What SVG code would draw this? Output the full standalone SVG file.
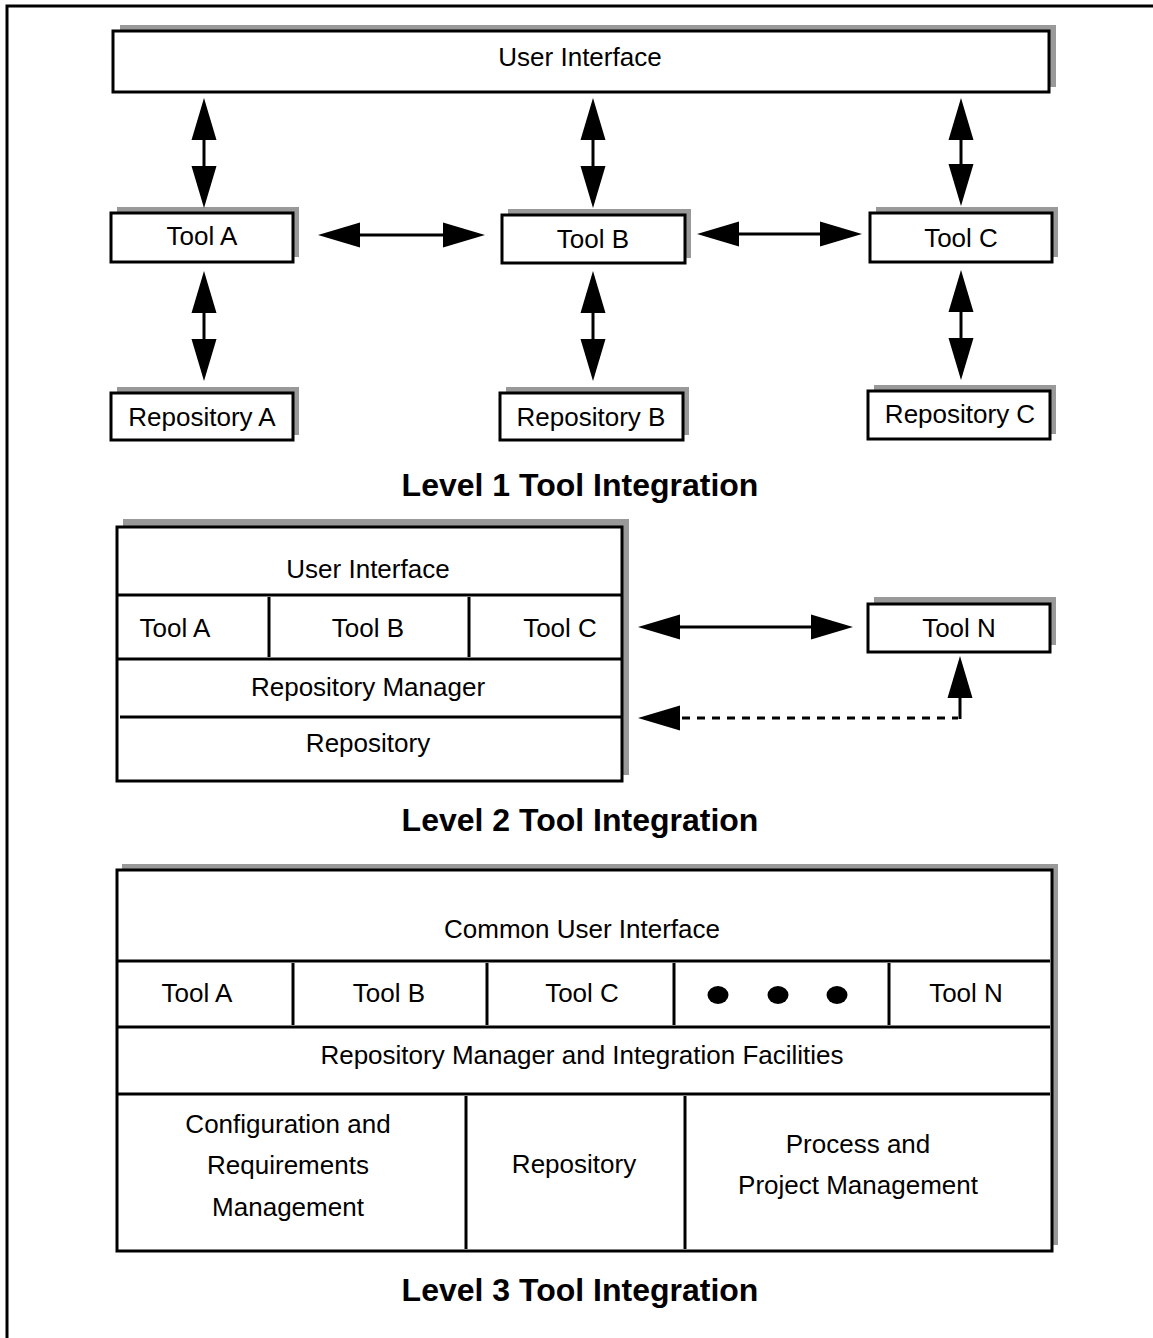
<svg xmlns="http://www.w3.org/2000/svg" width="1153" height="1338" viewBox="0 0 1153 1338">
  <style>
    .shadow { fill: #999999; }
    .box { fill: #ffffff; stroke: #000000; stroke-width: 3; }
    .rule { stroke: #000000; stroke-width: 3; fill: none; }
    .lbl { font-family: "Liberation Sans", Arial, sans-serif; font-size: 26px; fill: #000000; text-anchor: middle; }
    .title { font-family: "Liberation Sans", Arial, sans-serif; font-size: 32px; font-weight: bold; fill: #000000; text-anchor: middle; }
    .conn { stroke: #000000; stroke-width: 3; fill: none; marker-end: url(#head); marker-start: url(#head); }
    .dash { stroke: #000000; stroke-width: 3; fill: none; stroke-dasharray: 8 7; }
  </style>
  <defs>
    <marker id="head" markerUnits="userSpaceOnUse" markerWidth="44" markerHeight="26" refX="0" refY="12.5" orient="auto-start-reverse" overflow="visible">
      <path d="M0,0 L42,12.5 L0,25 Z" fill="#000000"/>
    </marker>
  </defs>

  <rect width="1153" height="1338" fill="#ffffff"/>
  <!-- page frame -->
  <path d="M7,1338 L7,6 L1153,6" stroke="#000000" stroke-width="3" fill="none"/>

  <!-- ===== Level 1 ===== -->
  <g id="l1-user-interface">
    <rect class="shadow" x="120" y="25" width="936" height="62"/>
    <rect class="box" x="113" y="31" width="936" height="61"/>
    <text class="lbl" x="580" y="66">User Interface</text>
  </g>
  <g id="l1-tool-a">
    <rect class="shadow" x="117" y="207" width="182" height="50"/>
    <rect class="box" x="111" y="213" width="182" height="49"/>
    <text class="lbl" x="202" y="245">Tool A</text>
  </g>
  <g id="l1-tool-b">
    <rect class="shadow" x="508" y="209" width="183" height="49"/>
    <rect class="box" x="502" y="215" width="183" height="48"/>
    <text class="lbl" x="593" y="248">Tool B</text>
  </g>
  <g id="l1-tool-c">
    <rect class="shadow" x="876" y="207" width="182" height="50"/>
    <rect class="box" x="870" y="213" width="182" height="49"/>
    <text class="lbl" x="961" y="247">Tool C</text>
  </g>
  <g id="l1-repo-a">
    <rect class="shadow" x="117" y="387" width="182" height="48"/>
    <rect class="box" x="111" y="393" width="182" height="47"/>
    <text class="lbl" x="202" y="426">Repository A</text>
  </g>
  <g id="l1-repo-b">
    <rect class="shadow" x="506" y="387" width="183" height="48"/>
    <rect class="box" x="500" y="393" width="183" height="47"/>
    <text class="lbl" x="591" y="426">Repository B</text>
  </g>
  <g id="l1-repo-c">
    <rect class="shadow" x="874" y="385" width="182" height="49"/>
    <rect class="box" x="868" y="391" width="182" height="48"/>
    <text class="lbl" x="960" y="423">Repository C</text>
  </g>
  <text class="title" x="580" y="496">Level 1 Tool Integration</text>

  <!-- ===== Level 2 ===== -->
  <g id="l2-stack">
    <rect class="shadow" x="123" y="519" width="506" height="256"/>
    <rect class="box" x="117" y="527" width="505" height="254"/>
    <line class="rule" x1="118" y1="595" x2="621" y2="595"/>
    <line class="rule" x1="118" y1="659" x2="621" y2="659"/>
    <line class="rule" x1="120" y1="717" x2="621" y2="717"/>
    <line class="rule" x1="269" y1="597" x2="269" y2="657"/>
    <line class="rule" x1="469" y1="597" x2="469" y2="657"/>
    <text class="lbl" x="368" y="578">User Interface</text>
    <text class="lbl" x="175" y="637">Tool A</text>
    <text class="lbl" x="368" y="637">Tool B</text>
    <text class="lbl" x="560" y="637">Tool C</text>
    <text class="lbl" x="368" y="696">Repository Manager</text>
    <text class="lbl" x="368" y="752">Repository</text>
  </g>
  <g id="l2-tool-n">
    <rect class="shadow" x="874" y="597" width="182" height="48"/>
    <rect class="box" x="868" y="604" width="182" height="48"/>
    <text class="lbl" x="959" y="637">Tool N</text>
  </g>
  <text class="title" x="580" y="831">Level 2 Tool Integration</text>

  <!-- ===== Level 3 ===== -->
  <g id="l3-stack">
    <rect class="shadow" x="122" y="864" width="936" height="381"/>
    <rect class="box" x="117" y="870" width="935" height="381"/>
    <line class="rule" x1="118" y1="961" x2="1050" y2="961"/>
    <line class="rule" x1="118" y1="1027" x2="1050" y2="1027"/>
    <line class="rule" x1="118" y1="1094" x2="1050" y2="1094"/>
    <line class="rule" x1="293" y1="963" x2="293" y2="1025"/>
    <line class="rule" x1="487" y1="963" x2="487" y2="1025"/>
    <line class="rule" x1="674" y1="963" x2="674" y2="1025"/>
    <line class="rule" x1="889" y1="963" x2="889" y2="1025"/>
    <line class="rule" x1="466" y1="1096" x2="466" y2="1249"/>
    <line class="rule" x1="685" y1="1096" x2="685" y2="1249"/>
    <text class="lbl" x="582" y="938">Common User Interface</text>
    <text class="lbl" x="197" y="1002">Tool A</text>
    <text class="lbl" x="389" y="1002">Tool B</text>
    <text class="lbl" x="582" y="1002">Tool C</text>
    <ellipse cx="718" cy="995" rx="10.5" ry="9"/>
    <ellipse cx="778" cy="995" rx="10.5" ry="9"/>
    <ellipse cx="837" cy="995" rx="10.5" ry="9"/>
    <text class="lbl" x="966" y="1002">Tool N</text>
    <text class="lbl" x="582" y="1064">Repository Manager and Integration Facilities</text>
    <text class="lbl" x="288" y="1133">Configuration and</text>
    <text class="lbl" x="288" y="1174">Requirements</text>
    <text class="lbl" x="288" y="1216">Management</text>
    <text class="lbl" x="574" y="1173">Repository</text>
    <text class="lbl" x="858" y="1153">Process and</text>
    <text class="lbl" x="858" y="1194">Project Management</text>
  </g>
  <text class="title" x="580" y="1301">Level 3 Tool Integration</text>

  <!-- ===== connectors ===== -->
  <g id="connectors">
    <line class="conn" x1="204" y1="140" x2="204" y2="166"/>
    <line class="conn" x1="593" y1="140" x2="593" y2="166"/>
    <line class="conn" x1="961" y1="140" x2="961" y2="164"/>
    <line class="conn" x1="360" y1="235" x2="443" y2="235"/>
    <line class="conn" x1="739" y1="234" x2="820" y2="234"/>
    <line class="conn" x1="204" y1="313" x2="204" y2="339"/>
    <line class="conn" x1="593" y1="313" x2="593" y2="339"/>
    <line class="conn" x1="961" y1="312" x2="961" y2="338"/>
    <line class="conn" x1="680" y1="627" x2="811" y2="627"/>
    <!-- dashed return from Tool N to the repository layer -->
    <line class="dash" x1="682" y1="718" x2="958" y2="718"/>
    <polyline class="rule" points="960,719 960,697"/>
    <path d="M680,705.5 L638,718 L680,730.5 Z" fill="#000000"/>
    <path d="M947.5,698 L960,656 L972.5,698 Z" fill="#000000"/>
  </g>
</svg>
